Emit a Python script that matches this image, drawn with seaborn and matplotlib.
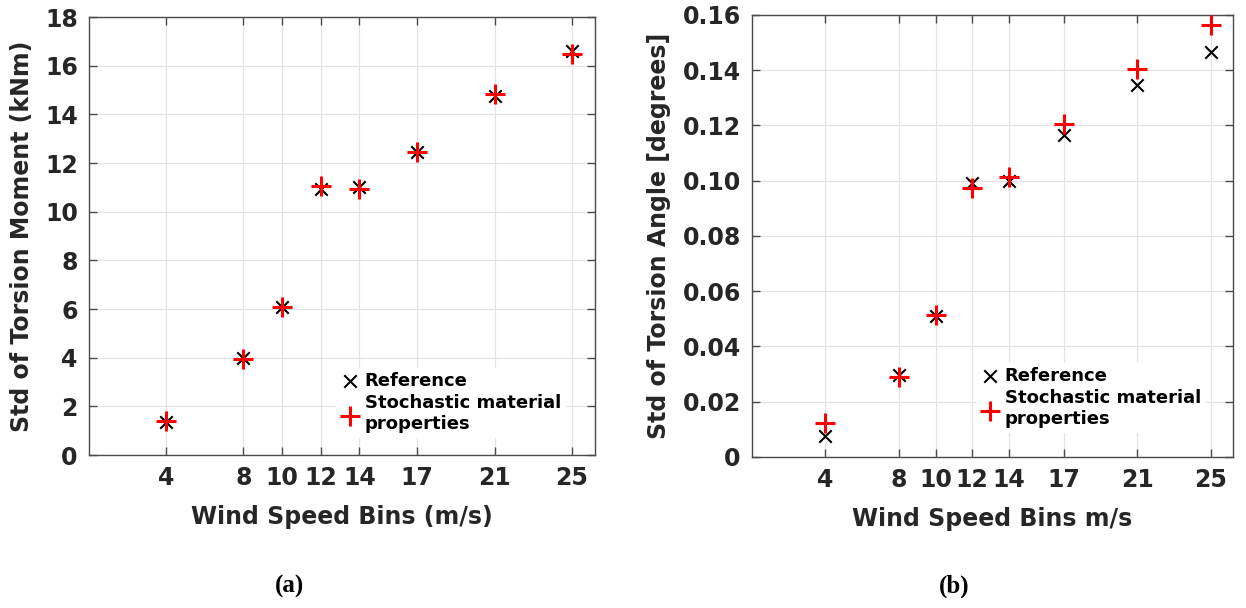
import matplotlib
matplotlib.use("Agg")
import matplotlib.pyplot as plt
import seaborn as sns
import pandas as pd

wind_bins = [4, 8, 10, 12, 14, 17, 21, 25]
moment_reference = [1.35, 4.0, 6.1, 10.95, 11.0, 12.45, 14.75, 16.6]
moment_stochastic = [1.4, 3.95, 6.1, 11.05, 10.95, 12.45, 14.85, 16.5]
angle_reference = [0.0075, 0.0295, 0.051, 0.0992, 0.0998, 0.1165, 0.1345, 0.1467]
angle_stochastic = [0.0122, 0.029, 0.0515, 0.0975, 0.1015, 0.1205, 0.1405, 0.1565]
moment_yticks = [0, 2, 4, 6, 8, 10, 12, 14, 16, 18]
angle_yticks = [0, 0.02, 0.04, 0.06, 0.08, 0.10, 0.12, 0.14, 0.16]
angle_yticklabels = ["0", "0.02", "0.04", "0.06", "0.08", "0.10", "0.12", "0.14", "0.16"]
series_labels = ["Reference", "Stochastic material\nproperties"]

sns.set_theme(style="white")
plt.rcParams["font.family"] = ["DejaVu Sans"]
plt.rcParams["font.weight"] = "bold"

TXT = "#262626"
fig = plt.figure(figsize=(12.46, 6.08), dpi=100)
ax1 = fig.add_axes([0.0714, 0.2516, 0.4061, 0.7204])
ax2 = fig.add_axes([0.6035, 0.2484, 0.386, 0.727])


def draw(ax, ref, sto, ylim, yticks, yticklabels, ylabel, xlabel, legend_anchor):
    df = pd.DataFrame({"x": wind_bins, "ref": ref, "sto": sto})
    sns.scatterplot(data=df, x="x", y="ref", ax=ax, marker="x", color="black",
                    s=80, linewidth=1.5, label=series_labels[0], zorder=3)
    sns.scatterplot(data=df, x="x", y="sto", ax=ax, marker="+", color="#ff0000",
                    s=200, linewidth=2.2, label=series_labels[1], zorder=4)
    ax.set_xlim(0, 26.2)
    ax.set_ylim(*ylim)
    ax.set_xticks(wind_bins)
    ax.set_xticklabels([str(v) for v in wind_bins])
    ax.set_yticks(yticks)
    ax.set_yticklabels(yticklabels)
    ax.grid(True, color="#e3e3e3", linewidth=0.9)
    ax.set_axisbelow(True)
    for sp in ax.spines.values():
        sp.set_color("#4a4a4a")
        sp.set_linewidth(1.0)
    ax.tick_params(axis="both", which="both", direction="in", length=6, width=1.0,
                   color="#4a4a4a", top=True, right=True, bottom=True, left=True,
                   labelsize=17, labelcolor=TXT, pad=8)
    for t in ax.get_xticklabels() + ax.get_yticklabels():
        t.set_fontweight("bold")
    ax.set_xlabel(xlabel, fontsize=17, fontweight="bold", color=TXT, labelpad=11)
    ax.set_ylabel(ylabel, fontsize=17, fontweight="bold", color=TXT, labelpad=8)
    leg = ax.legend(loc="center left", bbox_to_anchor=legend_anchor, frameon=True,
                    framealpha=1.0, edgecolor="white", facecolor="white",
                    prop={"weight": "bold", "size": 13}, handletextpad=0.2,
                    handlelength=1.2, borderpad=0.2, labelspacing=0.25)
    for t in leg.get_texts():
        t.set_color("black")


draw(ax1, moment_reference, moment_stochastic, (0, 18), moment_yticks,
     [str(v) for v in moment_yticks], "Std of Torsion Moment (kNm)",
     "Wind Speed Bins (m/s)", (0.47, 0.12))
draw(ax2, angle_reference, angle_stochastic, (0, 0.16), angle_yticks,
     angle_yticklabels, "Std of Torsion Angle [degrees]",
     "Wind Speed Bins m/s", (0.447, 0.135))

fig.text(0.232, 0.035, "(a)", ha="center", va="center", fontsize=18,
         fontweight="bold", family="Liberation Serif", color="black")
fig.text(0.766, 0.035, "(b)", ha="center", va="center", fontsize=18,
         fontweight="bold", family="Liberation Serif", color="black")

fig.savefig("out.png", dpi=100)
